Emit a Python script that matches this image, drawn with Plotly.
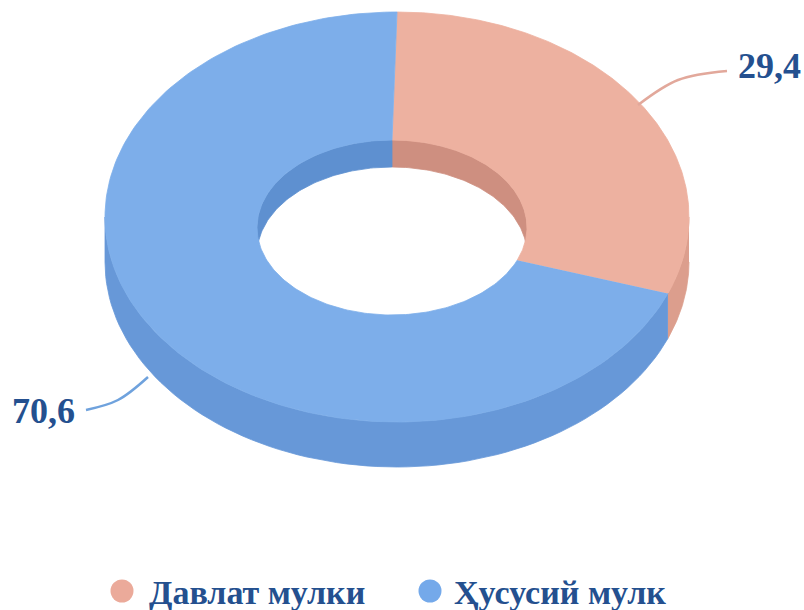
import numpy as np
import plotly.graph_objects as go

# ---- data ----
categories = ["Давлат мулки", "Ҳусусий мулк"]
values = [29.4, 70.6]
value_labels = ["29,4", "70,6"]

# ---- styling ----
top_colors = ["#EDB1A0", "#7DAEEA"]
side_colors = ["#DC9E8D", "#6798D8"]
inner_colors = ["#CE8F80", "#5E90D0"]
legend_colors = ["#EBAA9A", "#74A9EA"]
leader_colors = ["#E2A89B", "#6FA2DD"]
text_color = "#24508F"
FONT = "Times New Roman, Liberation Serif, serif"

OUT = dict(cx=397, cy=217, rx=292, ry=205, depth=45)
INN = dict(cx=392, cy=227.5, rx=135, ry=87.5, depth=27)
WARP = 0.11  # mild perspective warp of the angles

# label layout (pixel positions)
label_pos = [(736, 66, "left"), (77, 411, "right")]
leader_pts = [[(638, 105), (678, 80), (727, 71)],
              [(148, 377), (118, 400), (86, 410)]]
legend_marker_x = [122, 430]
legend_text_x = [147, 452]
legend_y = 591


def param(th):
    return th + WARP * np.sin(th)


def arc(e, a, b, dz=0.0, n=80):
    t = np.linspace(a, b, n)
    return e["cx"] + e["rx"] * np.sin(t), e["cy"] - e["ry"] * np.cos(t) + dz


def overlap(a, b, lo, hi):
    s, e = max(a, lo), min(b, hi)
    return (s, e) if e > s else None


def poly(xs, ys, color):
    return go.Scatter(x=np.concatenate(xs), y=np.concatenate(ys), mode="lines",
                      fill="toself", fillcolor=color,
                      line=dict(color=color, width=0.8),
                      hoverinfo="skip", showlegend=False)


total = float(sum(values))
cum = np.concatenate([[0.0], np.cumsum(values)]) / total * 2 * np.pi
bounds = [(param(cum[i]), param(cum[i + 1])) for i in range(len(values))]

fig = go.Figure()

# inner far wall (visible through the hole)
far = [(0.0, np.pi / 2), (1.5 * np.pi, 2 * np.pi)]
for i, (a, b) in enumerate(bounds):
    for lo, hi in far:
        ov = overlap(a, b, lo, hi)
        if ov:
            x1, y1 = arc(INN, ov[0], ov[1])
            x2, y2 = arc(INN, ov[1], ov[0], INN["depth"])
            fig.add_trace(poly([x1, x2], [y1, y2], inner_colors[i]))

# outer near side wall
for i, (a, b) in enumerate(bounds):
    ov = overlap(a, b, np.pi / 2, 1.5 * np.pi)
    if ov:
        x1, y1 = arc(OUT, ov[0], ov[1])
        x2, y2 = arc(OUT, ov[1], ov[0], OUT["depth"])
        fig.add_trace(poly([x1, x2], [y1, y2], side_colors[i]))

# top faces
for i, (a, b) in enumerate(bounds):
    x1, y1 = arc(OUT, a, b, n=200)
    x2, y2 = arc(INN, b, a, n=200)
    fig.add_trace(poly([x1, x2], [y1, y2], top_colors[i]))

# leader lines and value labels
for i in range(len(values)):
    pts = leader_pts[i]
    fig.add_trace(go.Scatter(x=[p[0] for p in pts], y=[p[1] for p in pts],
                             mode="lines", line=dict(color=leader_colors[i], width=2.5, shape="spline"),
                             hoverinfo="skip", showlegend=False))
    lx, ly, anchor = label_pos[i]
    fig.add_annotation(x=lx, y=ly, text=value_labels[i], showarrow=False,
                       xanchor=anchor, yanchor="middle",
                       font=dict(family=FONT, size=36, color=text_color, weight="bold"))

# legend
for i, name in enumerate(categories):
    fig.add_trace(go.Scatter(x=[legend_marker_x[i]], y=[legend_y], mode="markers",
                             marker=dict(size=23, color=legend_colors[i], line=dict(width=0)),
                             hoverinfo="skip", showlegend=False))
    fig.add_annotation(x=legend_text_x[i], y=legend_y + 1, text=name, showarrow=False,
                       xanchor="left", yanchor="middle",
                       font=dict(family=FONT, size=34, color=text_color, weight="bold"))

fig.update_layout(
    width=804, height=610,
    margin=dict(l=0, r=0, t=0, b=0),
    paper_bgcolor="white", plot_bgcolor="white",
    xaxis=dict(range=[0, 804], visible=False, fixedrange=True),
    yaxis=dict(range=[610, 0], visible=False, fixedrange=True),
    showlegend=False,
)

fig.write_html("out.html",
               config={"displayModeBar": False},
               post_script="document.body.style.margin='0';document.body.style.overflow='hidden';")
